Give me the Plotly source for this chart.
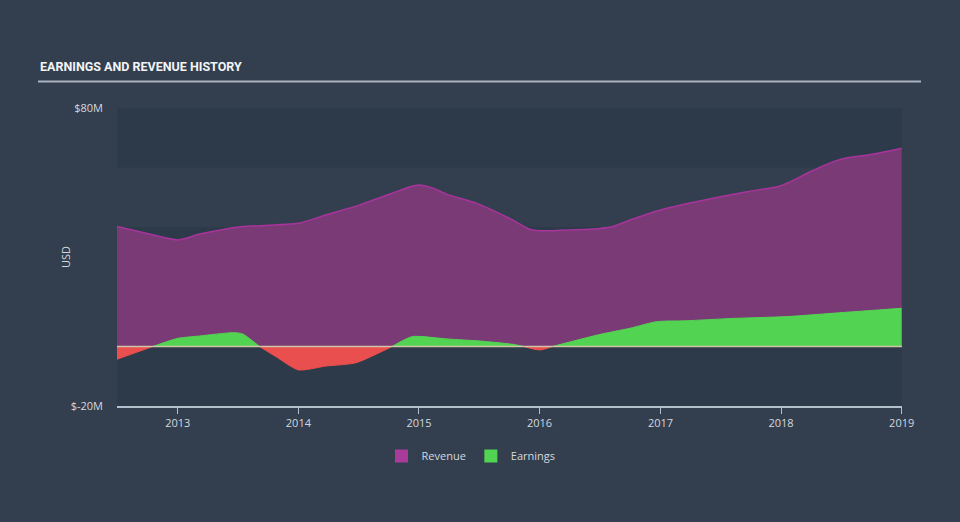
import plotly.graph_objects as go

# ---- data (USD millions) ----
rev_dates = ["2012-07-01", "2012-10-07", "2013-01-01", "2013-03-08", "2013-05-27",
             "2013-07-16", "2014-01-01", "2014-03-25", "2014-07-04", "2014-10-12",
             "2014-12-05", "2015-01-01", "2015-02-13", "2015-03-27", "2015-06-25",
             "2015-10-12", "2015-12-02", "2016-01-01", "2016-07-01", "2016-08-10",
             "2016-10-01", "2017-01-01", "2017-07-01", "2017-09-20", "2017-12-20",
             "2018-01-18", "2018-03-30", "2018-06-08", "2018-07-20", "2018-09-20",
             "2019-01-01"]
revenue = [40.2, 37.7, 35.7, 37.7, 39.4, 40.2, 41.3, 44.1, 47.4, 51.4,
           53.6, 54.2, 53.1, 51.0, 48.0, 42.4, 39.3, 38.8, 39.6, 40.2,
           42.4, 45.8, 50.2, 51.9, 53.6, 54.7, 58.6, 62.0, 63.3, 64.2,
           66.5]

earn_dates = ["2012-07-01", "2012-10-18", "2013-01-01", "2013-03-08", "2013-06-16",
              "2013-07-16", "2013-09-05", "2013-10-26", "2014-01-01", "2014-03-25",
              "2014-06-24", "2014-10-12", "2014-12-12", "2015-03-27", "2015-07-05",
              "2015-10-12", "2015-11-13", "2016-01-01", "2016-02-10", "2016-07-01",
              "2016-10-01", "2016-12-20", "2017-03-20", "2017-08-10", "2018-01-18",
              "2018-06-28", "2019-01-01"]
earnings = [-4.3, 0.0, 2.7, 3.5, 4.6, 4.2, 0.0, -3.5, -7.9, -6.6,
            -5.5, 0.0, 3.3, 2.5, 1.8, 0.7, 0.0, -1.2, 0.0, 4.0,
            6.1, 8.3, 8.6, 9.4, 10.0, 11.3, 12.8]

tick_dates = ["2013-01-01", "2014-01-01", "2015-01-01", "2016-01-01",
              "2017-01-01", "2018-01-01", "2019-01-01"]
tick_years = ["2013", "2014", "2015", "2016", "2017", "2018", "2019"]
y_ticks = [-20, 80]
y_labels = ["$-20M", "$80M"]

BG = "#333f4e"
BAND = "#2d3a49"
REV_FILL = "#7a3a76"
REV_LINE = "#a8349c"
REV_LEG = "#a93c9b"
GREEN = "#52d452"
RED = "#e94f4f"
TXT = "#d3d8df"

pos = [v if v >= 0 else None for v in earnings]
neg = [v if v <= 0 else None for v in earnings]

fig = go.Figure()

fig.add_trace(go.Scatter(x=rev_dates, y=revenue, mode="lines",
                         line=dict(color=REV_LINE, width=1.5, shape="spline", smoothing=0.6),
                         fill="tozeroy", fillcolor=REV_FILL, showlegend=False,
                         hoverinfo="skip"))
fig.add_trace(go.Scatter(x=earn_dates, y=pos, mode="lines",
                         line=dict(color=GREEN, width=1, shape="spline", smoothing=0.6),
                         fill="tozeroy", fillcolor=GREEN, showlegend=False,
                         connectgaps=False, hoverinfo="skip"))
fig.add_trace(go.Scatter(x=earn_dates, y=neg, mode="lines",
                         line=dict(color=RED, width=1, shape="spline", smoothing=0.6),
                         fill="tozeroy", fillcolor=RED, showlegend=False,
                         connectgaps=False, hoverinfo="skip"))

# legend proxies
fig.add_trace(go.Scatter(x=[None], y=[None], mode="markers", name="Revenue",
                         marker=dict(symbol="square", size=13, color=REV_LEG)))
fig.add_trace(go.Scatter(x=[None], y=[None], mode="markers", name="Earnings",
                         marker=dict(symbol="square", size=13, color=GREEN)))

shapes = []
# alternating background bands
for y0, y1 in [(-20, 0), (20, 40), (60, 80)]:
    shapes.append(dict(type="rect", xref="paper", yref="y", x0=0, x1=1, y0=y0, y1=y1,
                       fillcolor=BAND, line=dict(width=0), layer="below"))
# zero line
shapes.append(dict(type="line", xref="paper", yref="y", x0=0, x1=1, y0=0, y1=0,
                   line=dict(color="#cfc5a6", width=1.5), layer="above"))
# title underline
shapes.append(dict(type="line", xref="paper", yref="paper",
                   x0=(38 - 117) / 785, x1=(921 - 117) / 785,
                   y0=(406 - 81.5) / 298, y1=(406 - 81.5) / 298,
                   line=dict(color="#aab2bd", width=2)))

fig.update_layout(
    width=960, height=522,
    margin=dict(l=117, r=58, t=108, b=116),
    paper_bgcolor=BG, plot_bgcolor=BG,
    font=dict(family="Open Sans", color=TXT, size=11),
    shapes=shapes,
    showlegend=True,
    legend=dict(orientation="h", x=0.451, xanchor="center", y=-0.168, yanchor="middle",
                font=dict(size=11, color=TXT), bgcolor="rgba(0,0,0,0)",
                itemwidth=30, itemclick=False),
    annotations=[
        dict(text="<b>EARNINGS AND REVENUE HISTORY</b>", xref="paper", yref="paper",
             x=(38 - 117) / 785, y=(406 - 67) / 298, xanchor="left", yanchor="middle",
             showarrow=False,
             font=dict(family="Roboto", size=12.5, color="#f2f4f6")),
        dict(text="USD", xref="paper", yref="paper", x=(65 - 117) / 785, y=0.5,
             xanchor="center", yanchor="middle", textangle=-90, showarrow=False,
             font=dict(size=11, color=TXT)),
    ],
    xaxis=dict(type="date", range=["2012-07-01", "2019-01-02"],
               tickvals=tick_dates, ticktext=tick_years,
               showgrid=False, zeroline=False, showline=True, linecolor="#b4bfcc",
               linewidth=1.5, ticks="outside", ticklen=6, tickcolor="#b4bfcc",
               tickfont=dict(size=11, color=TXT)),
    yaxis=dict(range=[-20, 80], tickvals=y_ticks, ticktext=y_labels,
               showgrid=False, zeroline=False, showline=False, ticks="",
               ticklabelstandoff=13, tickfont=dict(size=11, color=TXT)),
)

fig.write_html("out.html")
